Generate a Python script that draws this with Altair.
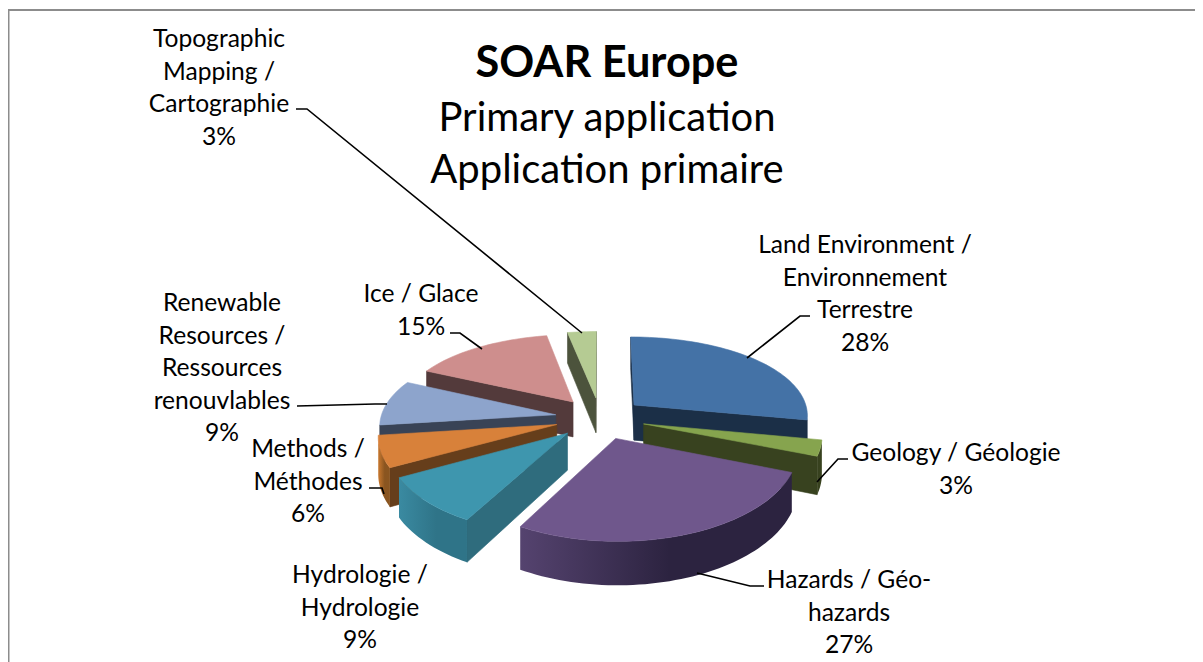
import math
import altair as alt
import pandas as pd

# ---- data ----
categories = ["Land Environment /\nEnvironnement\nTerrestre", "Geology / Géologie", "Hazards / Géo-\nhazards",
              "Hydrologie /\nHydrologie", "Methods /\nMéthodes", "Renewable\nResources /\nRessources\nrenouvlables",
              "Ice / Glace", "Topographic\nMapping /\nCartographie"]
shares = [28, 3, 27, 9, 6, 9, 15, 3]
top_colors = ["#4472A6", "#86A44E", "#6F578C", "#3E96AE", "#D8813A", "#8DA4CC", "#CE8E8D", "#B5CB93"]
edge_colors = ["#1B2F47", "#38421F", "#2C2340", "#2F6C7D", "#663E1B", "#394356", "#533A3B", "#4C533C"]
arc_stops = [("#22364F", "#1B2F47"), ("#38421F", "#38421F"), ("#55436F", "#2C2340"), ("#3A8AA1", "#2F7488"),
             ("#C8782F", "#8A5520"), ("#394356", "#394356"), ("#533A3B", "#533A3B"), ("#4C533C", "#4C533C")]

W, H = 1187, 654
OX, OY = 8, 8  # page margin
TEXT_DY = 2

# ---- layout of the tilted pie ----
CX, D, A, YH = 600, 1204, 560, -142
R, EXPLODE, DEPTH = 175, 45, 36
X_PERSP = 0.8

X_SCALE = alt.Scale(domain=[0, W], range=[0, W], nice=False, zero=False)
Y_SCALE = alt.Scale(domain=[H, 0], nice=False, zero=False)


def project(u, v, drop=0.0):
    s = D / (D + v)
    sx = 1 + (s - 1) * X_PERSP
    return CX + u * sx - OX, YH + (A + drop) * s - OY


def polygon_layer(points, fill, stroke=True):
    df = pd.DataFrame([{"x": p[0], "y": p[1], "i": i} for i, p in enumerate(points)])
    kw = dict(stroke=fill, strokeWidth=0.6) if stroke else dict(strokeWidth=0, strokeOpacity=0)
    return alt.Chart(df).mark_line(interpolate="linear-closed", fill=fill, **kw).encode(
        x=alt.X("x:Q", scale=X_SCALE, axis=None),
        y=alt.Y("y:Q", scale=Y_SCALE, axis=None),
        order=alt.Order("i:Q"),
    )


def area2(poly):
    return sum(poly[i][0] * poly[(i + 1) % len(poly)][1] - poly[(i + 1) % len(poly)][0] * poly[i][1]
               for i in range(len(poly)))


total = sum(shares)
start = 0.0
slices = {}
for k, share in enumerate(shares):
    end = start + share / total * 2 * math.pi
    slices[k] = (start, end)
    start = end

paint_order = [7, 6, 0, 5, 1, 4, 3, 2]
layers = []
for k in paint_order:
    a0, a1 = slices[k]
    mid = (a0 + a1) / 2
    eu, ev = EXPLODE * math.sin(mid), EXPLODE * math.cos(mid)
    n = max(4, int((a1 - a0) / 0.03))
    ground = [(eu + R * math.sin(a0 + (a1 - a0) * j / n), ev + R * math.cos(a0 + (a1 - a0) * j / n)) for j in range(n + 1)]
    apex = (eu, ev)
    t = lambda g: project(g[0], g[1])
    b = lambda g: project(g[0], g[1], DEPTH)
    # radial walls
    for p, q in [(apex, ground[0]), (ground[-1], apex)]:
        quad = [t(p), t(q), b(q), b(p)]
        if area2(quad) < 0:
            layers.append(polygon_layer(quad, edge_colors[k]))
    # outer wall (front-facing run only)
    run = []
    for j in range(n):
        quad = [t(ground[j]), t(ground[j + 1]), b(ground[j + 1]), b(ground[j])]
        if area2(quad) < 0:
            run.append(j)
    if run:
        top_edge = [t(ground[j]) for j in range(run[0], run[-1] + 2)]
        bot_edge = [b(ground[j]) for j in range(run[0], run[-1] + 2)]
        left, right = arc_stops[k]
        grad = alt.LinearGradient(gradient="linear", x1=0, x2=1, y1=0, y2=0,
                                  stops=[alt.GradientStop(color=left, offset=0),
                                         alt.GradientStop(color=right, offset=0.55),
                                         alt.GradientStop(color=right, offset=1)])
        layers.append(polygon_layer(top_edge + bot_edge[::-1], grad, stroke=False))
    # top face
    layers.append(polygon_layer([t(apex)] + [t(g) for g in ground], top_colors[k]))

# ---- frame ----
frame = pd.DataFrame({"x": [0.5, 0.5, W], "y": [H, 2, 2], "i": [0, 1, 2]})
frame_layer = alt.Chart(frame).mark_line(color="#8C8C8C", strokeWidth=2).encode(
    x=alt.X("x:Q", scale=X_SCALE, axis=None), y=alt.Y("y:Q", scale=Y_SCALE, axis=None), order="i:Q")

# ---- leader lines ----
leaders = [
    [(296, 109), (307, 109), (582, 333)],
    [(810, 316), (800, 316), (747, 358)],
    [(848, 459), (838, 459), (817, 482)],
    [(764, 586), (750, 586), (697, 573)],
    [(369, 488), (382, 488), (384, 494)],
    [(297, 406), (375, 404), (387, 404)],
    [(450, 333), (460, 333), (482, 349)],
]
leader_rows = [{"x": x - OX, "y": y - OY, "i": i, "g": g} for g, pts in enumerate(leaders) for i, (x, y) in enumerate(pts)]
leader_layer = alt.Chart(pd.DataFrame(leader_rows)).mark_line(color="#000000", strokeWidth=1.6).encode(
    x=alt.X("x:Q", scale=X_SCALE, axis=None), y=alt.Y("y:Q", scale=Y_SCALE, axis=None),
    detail="g:N", order="i:Q")

# ---- labels ----
label_pos = {0: (865, 244), 1: (956, 452), 2: (849, 579), 3: (360, 574), 4: (308, 448), 5: (222, 302), 6: (421, 293), 7: (219, 38)}
LINE = 32.6
label_rows = []
for k, name in enumerate(categories):
    x, y = label_pos[k]
    lines = name.split("\n") + [f"{shares[k]}%"]
    for j, line in enumerate(lines):
        label_rows.append({"x": x - OX, "y": y + j * LINE - OY + TEXT_DY, "t": line})
label_layer = alt.Chart(pd.DataFrame(label_rows)).mark_text(font="Lato", fontSize=24.6, color="#000000", align="center", baseline="middle").encode(
    x=alt.X("x:Q", scale=X_SCALE, axis=None), y=alt.Y("y:Q", scale=Y_SCALE, axis=None), text="t:N")

title_rows = pd.DataFrame([{"x": 607 - OX, "y": 62 - OY + TEXT_DY, "t": "SOAR Europe"}])
sub_rows = pd.DataFrame([{"x": 607 - OX, "y": 117 - OY + TEXT_DY, "t": "Primary application"},
                         {"x": 607 - OX, "y": 169 - OY + TEXT_DY, "t": "Application primaire"}])
title_layer = alt.Chart(title_rows).mark_text(font="Lato", fontSize=43.3, fontWeight="bold", color="#000000", baseline="middle").encode(
    x=alt.X("x:Q", scale=X_SCALE, axis=None), y=alt.Y("y:Q", scale=Y_SCALE, axis=None), text="t:N")
sub_layer = alt.Chart(sub_rows).mark_text(font="Lato", fontSize=40, color="#000000", baseline="middle").encode(
    x=alt.X("x:Q", scale=X_SCALE, axis=None), y=alt.Y("y:Q", scale=Y_SCALE, axis=None), text="t:N")

chart = alt.layer(
    frame_layer, *layers, leader_layer, label_layer, title_layer, sub_layer
).properties(width=W, height=H, padding=0, background="#FFFFFF",
             autosize=alt.AutoSizeParams(type="none")).configure_view(stroke=None)

chart.save("out.html", embed_options={"renderer": "svg", "actions": False})
